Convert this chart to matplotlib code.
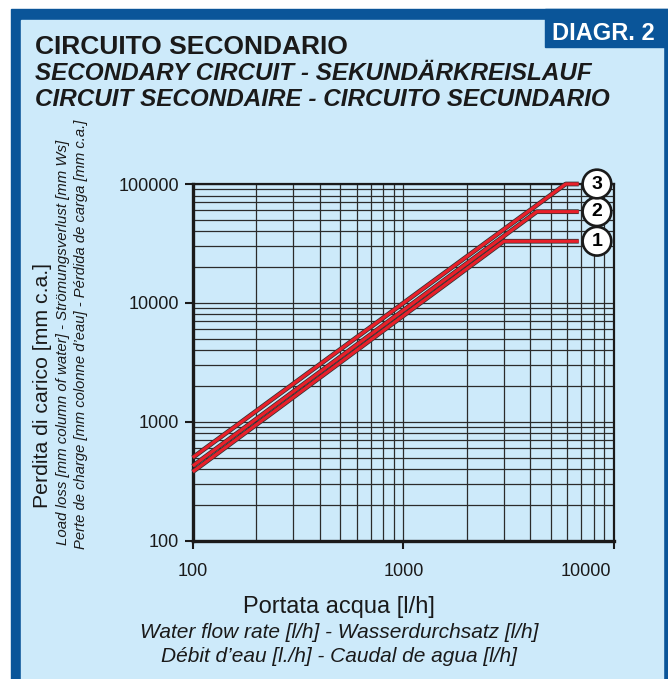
import numpy as np
import matplotlib
matplotlib.use("Agg")
import matplotlib.pyplot as plt
import matplotlib.patheffects as pe
import matplotlib.transforms as mtransforms
from matplotlib.patches import Rectangle

plt.rcParams['font.family'] = ['Liberation Sans', 'DejaVu Sans']

# curve data: flow rate [l/h] and pressure loss [mm c.a.]
curve_ids = ['1', '2', '3']
flow_1 = [100, 3000, 6800]
loss_1 = [380, 33000, 33000]
flow_2 = [100, 4300, 6800]
loss_2 = [425, 58500, 58500]
flow_3 = [100, 5900, 6800]
loss_3 = [500, 100000, 100000]
label_flow = 8300

x_ticks = [100, 1000, 10000]
y_ticks = [100, 1000, 10000, 100000]

DARK = '#0a5599'
LIGHT = '#cdeafa'
RED = '#e8202a'
INK = '#1a1a1a'

W, H = 668, 679
fig = plt.figure(figsize=(W / 100, H / 100), dpi=100)
fig.patch.set_facecolor('white')

def px_rect(x0, y0, x1, y1, color):
    # rectangle in pixel coords measured from top-left
    fig.patches.append(Rectangle((x0 / W, 1 - y1 / H), (x1 - x0) / W, (y1 - y0) / H,
                                 transform=fig.transFigure, color=color, zorder=-10))

px_rect(11, 9, W, H, DARK)
px_rect(21, 20, 663, H, LIGHT)
px_rect(545, 9, W, 47, DARK)

def fy(y):
    return 1 - y / H

def fx(x):
    return x / W

fig.text(fx(552), fy(33), 'DIAGR. 2', color='white', fontsize=17, fontweight='bold',
         va='center', ha='left')
fig.text(fx(35), fy(47), 'CIRCUITO SECONDARIO', fontsize=19, fontweight='bold',
         va='center', ha='left', color=INK)
fig.text(fx(35), fy(74), 'SECONDARY CIRCUIT - SEKUNDÄRKREISLAUF', fontsize=17.5,
         fontweight='bold', style='italic', va='center', ha='left', color=INK)
fig.text(fx(35), fy(100), 'CIRCUIT SECONDAIRE - CIRCUITO SECUNDARIO', fontsize=17.5,
         fontweight='bold', style='italic', va='center', ha='left', color=INK)

# axis titles
fig.text(fx(339), fy(607), 'Portata acqua [l/h]', fontsize=17, ha='center', va='center',
         color=INK)
fig.text(fx(339), fy(633), 'Water flow rate [l/h] - Wasserdurchsatz [l/h]', fontsize=15,
         style='italic', ha='center', va='center', color=INK)
fig.text(fx(339), fy(657), 'Débit d\u2019eau [l./h] - Caudal de agua [l/h]', fontsize=15,
         style='italic', ha='center', va='center', color=INK)

fig.text(fx(43), fy(386), 'Perdita di carico [mm c.a.]', fontsize=15.3, rotation=90,
         ha='center', va='center', color=INK)
fig.text(fx(63), fy(342), 'Load loss [mm column of water] - Strömungsverlust [mm Ws]',
         fontsize=10.8, style='italic', rotation=90, ha='center', va='center', color=INK)
fig.text(fx(81), fy(334), 'Perte de charge [mm colonne d\u2019eau] - Pérdida de carga [mm c.a.]',
         fontsize=10.6, style='italic', rotation=90, ha='center', va='center', color=INK)

ax = fig.add_axes([192.7 / W, 1 - 540.7 / H, (614 - 192.7) / W, (540.7 - 184) / H])
ax.set_facecolor('none')
ax.set_xscale('log')
ax.set_yscale('log')
ax.set_xlim(100, 10000)
ax.set_ylim(100, 100000)

ax.grid(True, which='both', color='#2b2b2b', lw=0.9)
ax.set_axisbelow(True)

ax.set_xticks(x_ticks)
ax.set_xticklabels([str(v) for v in x_ticks])
ax.set_yticks(y_ticks)
ax.set_yticklabels([str(v) for v in y_ticks])
ax.tick_params(which='major', direction='out', length=6, width=1.5, labelsize=13,
               colors=INK)
ax.tick_params(axis='x', pad=10)
ax.tick_params(axis='y', pad=4)
ax.tick_params(which='minor', length=0)
# the last flow label sits a bit left of its tick in the original sheet
last = ax.get_xticklabels()[-1]
last.set_transform(last.get_transform() +
                   mtransforms.ScaledTranslation(-28 / 100, 0, fig.dpi_scale_trans))
for s in ax.spines.values():
    s.set_linewidth(1.6)
    s.set_color(INK)
ax.spines['left'].set_linewidth(2.4)
ax.spines['bottom'].set_linewidth(2.4)

outline = [pe.Stroke(linewidth=3.4, foreground='#333333'), pe.Normal()]
for xs, ys in [(flow_1, loss_1), (flow_2, loss_2), (flow_3, loss_3)]:
    ax.plot(xs, ys, color=RED, lw=2.3, path_effects=outline, solid_capstyle='butt',
            zorder=3, clip_on=False)

for cid, ys in zip(curve_ids, [loss_1, loss_2, loss_3]):
    ax.text(label_flow, ys[-1], cid, fontsize=14, fontweight='bold', ha='center', va='center',
            zorder=5, clip_on=False,
            bbox=dict(boxstyle='circle,pad=0.3', fc='white', ec=INK, lw=1.9))

fig.savefig('out.png', dpi=100)
